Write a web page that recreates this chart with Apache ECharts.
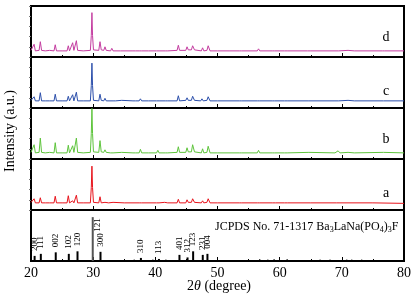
<!DOCTYPE html>
<html>
<head>
<meta charset="utf-8">
<script src="https://cdn.jsdelivr.net/npm/echarts@6/dist/echarts.min.js"></script>
<style>
  html, body { margin: 0; padding: 0; background: #fff; }
  #chart { width: 416px; height: 296px; }
</style>
</head>
<body>
<div id="chart"></div>
<script>
// 各样品的 XRD 曲线 [2theta, 强度(面板内 0-100)]
var sampleD = [[20,13],[20.3,12],[20.5,25],[20.7,12],[21.3,13],[21.5,30],[21.7,13],[22.3,12],[23.0,13],[23.7,12],[23.9,24],[24.1,12],[25.0,12],[25.8,12],[26.0,22],[26.2,12],[26.5,13],[26.7,28],[26.9,13],[27.1,13],[27.3,32],[27.5,13],[28.4,12],[29.55,13],[29.7,42],[29.8,87],[29.9,42],[30.05,14],[30.9,13],[31.1,30],[31.3,14],[31.7,13],[31.9,20],[32.1,13],[32.8,12],[33.0,17],[33.2,12],[34.4,12],[34.6,14],[34.8,12],[36.4,12],[36.6,14],[36.8,12],[37.4,12],[37.6,15],[37.8,12],[38.9,12],[39.1,14],[39.3,12],[40.2,12],[40.4,15],[40.6,12],[41.6,12],[41.8,15],[42.0,12],[43.5,13],[43.7,23],[43.9,13],[44.9,13],[45.1,20],[45.3,14],[45.8,14],[46.0,22],[46.3,14],[47.4,12],[47.6,18],[47.8,12],[48.3,13],[48.5,22],[48.8,12],[50.0,12],[52.0,12],[53.5,12],[53.7,14],[53.9,12],[56.4,12],[56.6,16],[56.8,12],[58.8,12],[59.0,14],[59.2,12],[60.8,12],[61.0,14],[61.2,12],[64.5,12],[64.7,13],[64.9,12],[68.9,12],[69.2,15],[69.5,12],[71.0,13],[72.0,12],[76.5,12],[76.7,13],[76.9,12],[80,12]];
var sampleC = [[20,15],[20.3,14],[20.5,22],[20.7,14],[21.3,14],[21.5,30],[21.7,14],[22.3,14],[23.0,14],[23.7,14],[23.9,27],[24.1,14],[25.0,14],[25.8,14],[26.0,23],[26.2,14],[26.5,14],[26.7,26],[26.9,14],[27.1,15],[27.3,31],[27.5,14],[28.4,14],[29.55,14],[29.7,44],[29.8,88],[29.9,44],[30.05,15],[30.9,14],[31.1,27],[31.3,15],[31.7,14],[31.9,19],[32.1,14],[33.2,14],[33.4,16],[33.6,14],[34.6,15],[36.4,14],[36.6,15],[36.8,14],[37.4,14],[37.6,18],[37.8,14],[38.9,14],[39.1,15],[39.3,14],[40.2,14],[40.4,17],[40.6,14],[41.6,14],[41.8,16],[42.0,14],[43.5,14],[43.7,24],[43.9,14],[44.9,15],[45.1,20],[45.3,15],[45.8,15],[46.0,23],[46.3,15],[47.3,14],[47.5,18],[47.7,14],[48.3,15],[48.5,22],[48.8,14],[50.0,14],[53.5,14],[53.7,15],[53.9,14],[56.4,14],[56.6,17],[56.8,14],[58.8,14],[59.0,15],[59.2,14],[60.8,14],[61.0,15],[61.2,14],[64.7,14],[68.9,14],[69.2,16],[69.5,14],[71.0,15],[72.0,14],[76.7,14],[80,14]];
var sampleB = [[20,13],[20.3,12],[20.5,28],[20.7,12],[21.3,13],[21.5,41],[21.7,13],[22.3,12],[23.0,13],[23.7,12],[23.9,32],[24.1,12],[25.0,12],[25.8,12],[26.0,27],[26.2,12],[26.5,13],[26.7,26],[26.9,13],[27.1,13],[27.3,41],[27.5,13],[28.4,12],[29.55,13],[29.7,50],[29.8,99],[29.9,50],[30.05,14],[30.9,13],[31.1,36],[31.3,14],[31.7,13],[31.9,18],[32.1,13],[32.8,12],[33.0,15],[33.2,12],[34.6,13],[36.4,12],[36.6,14],[36.8,12],[37.4,12],[37.6,19],[37.8,12],[38.9,12],[39.1,14],[39.3,12],[40.2,12],[40.4,17],[40.6,12],[41.6,12],[41.8,15],[42.0,12],[43.5,13],[43.7,24],[43.9,13],[44.9,13],[45.1,22],[45.3,14],[45.8,14],[46.0,28],[46.3,14],[47.4,12],[47.6,20],[47.8,12],[48.3,13],[48.5,25],[48.8,12],[50.0,12],[53.5,12],[53.7,14],[53.9,12],[56.4,12],[56.6,17],[56.8,12],[58.8,12],[59.0,15],[59.2,12],[60.8,12],[61.0,15],[61.2,12],[64.7,13],[68.9,12],[69.4,16],[69.7,12],[71.0,13],[72.0,12],[76.7,13],[80,12]];
var sampleA = [[20,15],[20.3,14],[20.5,22],[20.7,14],[21.3,14],[21.5,24],[21.7,14],[22.3,14],[23.0,14],[23.7,14],[23.9,27],[24.1,14],[25.0,14],[25.8,14],[26.0,28],[26.2,14],[26.5,14],[26.7,18],[26.9,14],[27.1,14],[27.3,29],[27.5,14],[28.4,14],[29.55,14],[29.7,44],[29.8,86],[29.9,44],[30.05,15],[30.9,14],[31.1,26],[31.3,14],[31.9,15],[32.5,14],[33.2,15],[35.0,14],[37.4,14],[37.6,17],[37.8,14],[40.2,14],[40.4,17],[40.6,14],[41.5,15],[42.0,14],[43.5,14],[43.7,21],[43.9,14],[44.9,14],[45.1,20],[45.3,15],[45.8,15],[46.0,22],[46.3,15],[47.4,14],[47.6,18],[47.8,14],[48.3,15],[48.5,22],[48.8,14],[50.0,14],[53.5,14],[53.7,15],[53.9,14],[56.4,14],[56.6,17],[56.8,14],[58.8,14],[59.0,16],[59.3,14],[60.8,14],[61.0,16],[61.3,14],[65.0,14],[69.1,14],[69.4,16],[69.7,14],[75.0,14],[80,13]];

// JCPDS 71-1317 标准卡片
var jcPos    = [20.5, 21.5, 23.9, 26.0, 27.4, 29.85, 31.1, 37.6, 40.5, 43.8, 45.1, 46.0, 47.55, 48.3];
var jcHeight = [10, 14, 17, 14, 19, 86, 18, 6, 4, 12, 7, 19, 12, 14];
var jcHkl    = ['200', '111', '002', '102', '120', '121', '300', '310', '113', '401', '312', '123', '231', '004'];
var jcMinorPos    = [32.3, 33.3, 36.6, 39.6, 41.7, 49.2, 56.8, 58.1, 59.1, 61.2, 63.3, 66.5, 68.1, 70.8, 71.6, 73.2, 76.6, 78.5];
var jcMinorHeight = [2, 2, 3, 3, 3, 2, 4, 3, 4, 4, 2, 3, 3, 3, 3, 3, 2, 2];

var xTicks = [20, 30, 40, 50, 60, 70, 80];

var panelNames  = ['d', 'c', 'b', 'a'];
var panelData   = [sampleD, sampleC, sampleB, sampleA];
var panelColors = ['#c43ca0', '#2c4fab', '#5ec43c', '#e8141c'];

var serif = '"Liberation Serif", "DejaVu Serif", serif';
var myChart = echarts.init(document.getElementById('chart'), null, { renderer: 'canvas' });

var grids = [], xAxes = [], yAxes = [], series = [];
for (var i = 0; i < 5; i++) {
  grids.push({ left: 31, right: 12, top: 6 + i * 51, height: 51, show: true, borderColor: '#000', borderWidth: 2, backgroundColor: 'transparent' });
  xAxes.push({
    gridIndex: i, type: 'value', min: xTicks[0], max: xTicks[xTicks.length - 1], interval: 10,
    axisLine: { show: true, lineStyle: { color: '#000', width: 2 } },
    axisTick: { show: true, inside: true, length: 4, lineStyle: { color: '#000' } },
    minorTick: { show: true, splitNumber: 2, length: 2, lineStyle: { color: '#000' } },
    splitLine: { show: false },
    axisLabel: { show: i == 4, color: '#000', fontFamily: serif, fontSize: 14, margin: 5 }
  });
  yAxes.push({
    gridIndex: i, type: 'value', min: 0, max: 100, interval: 20,
    axisLine: { show: true, lineStyle: { color: '#000', width: 2 } },
    axisTick: { show: i < 4, inside: false, length: 2, lineStyle: { color: '#777' } },
    splitLine: { show: false },
    axisLabel: { show: false }
  });
}

for (var k = 0; k < 4; k++) {
  series.push({
    name: panelNames[k], type: 'line', xAxisIndex: k, yAxisIndex: k,
    data: panelData[k], symbol: 'none', clip: true,
    lineStyle: { color: panelColors[k], width: 1 }
  });
}

// 121 峰的标签放在竖线右侧
var stickData = jcPos.map(function (p, j) {
  var item = { value: [p, jcHeight[j]], itemStyle: { color: j == 5 ? '#555' : '#000' } };
  if (j == 5) {
    item.label = { position: [6, 1], align: 'right' };
  }
  return item;
});
series.push({
  type: 'bar', xAxisIndex: 4, yAxisIndex: 4, barWidth: 2, barGap: '-100%',
  data: stickData,
  label: {
    show: true, position: 'top', rotate: 90, align: 'left', verticalAlign: 'middle', distance: 5,
    fontFamily: serif, fontSize: 9, color: '#000',
    formatter: function (p) { return jcHkl[p.dataIndex]; }
  }
});
series.push({
  type: 'bar', xAxisIndex: 4, yAxisIndex: 4, barWidth: 1, barGap: '-100%',
  data: jcMinorPos.map(function (p, j) { return [p, jcMinorHeight[j]]; }),
  itemStyle: { color: '#000' }
});

var letterY = [37, 91, 139, 193];
var graphics = panelNames.map(function (n, j) {
  return { type: 'text', x: 386, y: letterY[j], style: { text: n, font: '14px ' + serif, fill: '#000', textAlign: 'center', textVerticalAlign: 'middle' } };
});
graphics.push({ type: 'text', x: 10, y: 131, rotation: Math.PI / 2,
  style: { text: 'Intensity (a.u.)', font: '14px ' + serif, fill: '#000', textAlign: 'center', textVerticalAlign: 'middle' } });

var option = {
  animation: false,
  backgroundColor: '#fff',
  grid: grids,
  xAxis: xAxes,
  yAxis: yAxes,
  series: series,
  title: [{
    text: 'JCPDS No. 71-1317 Ba{s|3}LaNa(PO{s|4}){s|3}F',
    left: 210, top: 214,
    textStyle: {
      fontFamily: serif, fontSize: 12, fontWeight: 'normal', color: '#000',
      rich: { s: { fontFamily: serif, fontSize: 8, padding: [7, 0, 0, 0], color: '#000' } }
    }
  }, {
    text: '2{i|θ} (degree)',
    left: 182, top: 274,
    textStyle: {
      fontFamily: serif, fontSize: 14, fontWeight: 'normal', color: '#000',
      rich: { i: { fontFamily: serif, fontSize: 14, fontStyle: 'italic', color: '#000' } }
    }
  }],
  graphic: graphics
};
myChart.setOption(option);
</script>
</body>
</html>
